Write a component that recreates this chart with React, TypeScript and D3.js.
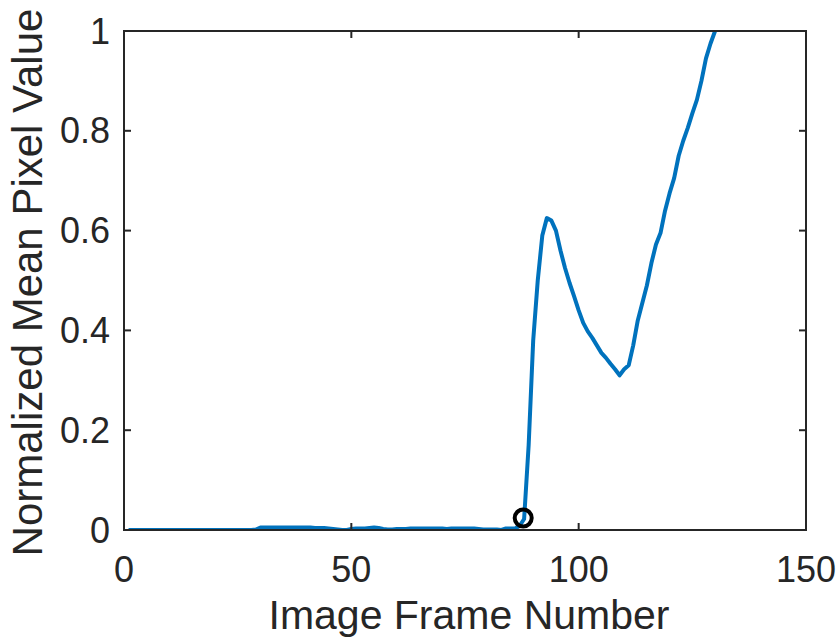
import React from 'react';
import { scaleLinear, line } from 'd3';

// frames 1..131, normalized mean pixel value
const baseline = [
	0, 0, 0, 0, 0, 0, 0, 0, 0, 0,
	0, 0, 0, 0, 0, 0, 0, 0, 0, 0,
	0, 0, 0, 0, 0, 0, 0, 0, 0.001, 0.005,
	0.005, 0.005, 0.005, 0.005, 0.005, 0.005, 0.005, 0.005, 0.005, 0.005,
	0.005, 0.004, 0.004, 0.004, 0.003, 0.002, 0.001, 0.0, 0.0, 0.002,
	0.003, 0.003, 0.003, 0.004, 0.005, 0.004, 0.002, 0.001, 0.001, 0.002,
	0.002, 0.002, 0.003, 0.003, 0.003, 0.003, 0.003, 0.003, 0.003, 0.003,
	0.002, 0.003, 0.003, 0.003, 0.003, 0.003, 0.003, 0.002, 0.001, 0.001,
	0.001, 0.001, 0.0, 0.003, 0.003, 0.003, 0.008
];
const rise = [
	0.022, 0.17, 0.38, 0.5, 0.59, 0.625, 0.62, 0.6, 0.56, 0.525,
	0.495, 0.468, 0.44, 0.415, 0.398, 0.385, 0.37, 0.355, 0.345, 0.333,
	0.322, 0.31, 0.322, 0.33, 0.37, 0.42, 0.455, 0.49, 0.535, 0.572,
	0.595, 0.64, 0.675, 0.705, 0.75, 0.78, 0.806, 0.835, 0.862, 0.9,
	0.945, 0.975, 1.0, 1.03
];
const values = baseline.concat(rise);
const frames = values.map((v, i) => i + 1);

const onsetFrame = 87.8;
const onsetValue = 0.024;

const xTicks = [0, 50, 100, 150];
const yTicks = [0, 0.2, 0.4, 0.6, 0.8, 1];
const yTickLabels = ['0', '0.2', '0.4', '0.6', '0.8', '1'];

const width = 836;
const height = 640;
const margin = { top: 31, right: 30, bottom: 110, left: 124 };
const ink = '#262626';
const font = '"Liberation Sans", Arial, Helvetica, sans-serif';

export default function App() {
	const w = width - margin.left - margin.right;
	const h = height - margin.top - margin.bottom;

	const x = scaleLinear().domain([0, 150]).range([0, w]);
	const y = scaleLinear().domain([0, 1]).range([h, 0]);

	const data = frames.map((f, i) => ({ x: f, y: values[i] }));

	const lineFn = line<{ x: number; y: number }>()
		.x((d) => x(d.x))
		.y((d) => y(d.y));

	const tick = 7;

	return (
		<div style={{ position: 'absolute', left: 0, top: 0 }}>
			<svg width={width} height={height} style={{ display: 'block', background: '#fff' }}>
				<defs>
					<clipPath id="plot-clip">
						<rect x={0} y={0} width={w} height={h} />
					</clipPath>
				</defs>
				<g transform={'translate(' + margin.left + ',' + margin.top + ')'}>
					<path
						d={lineFn(data) || ''}
						fill="none"
						stroke="#0072BD"
						strokeWidth={4}
						strokeLinejoin="round"
						clipPath="url(#plot-clip)"
					/>
					<circle
						cx={x(onsetFrame)}
						cy={y(onsetValue)}
						r={8.5}
						fill="none"
						stroke="#000"
						strokeWidth={4}
					/>

					<rect x={0} y={0} width={w} height={h} fill="none" stroke={ink} strokeWidth={2} />

					{xTicks.map((t) => (
						<g key={'x' + t}>
							<line x1={x(t)} x2={x(t)} y1={h} y2={h - tick} stroke={ink} strokeWidth={2} />
							<line x1={x(t)} x2={x(t)} y1={0} y2={tick} stroke={ink} strokeWidth={2} />
							<text
								x={x(t)}
								y={h + 52}
								textAnchor="middle"
								fontFamily={font}
								fontSize={36}
								fill={ink}
							>
								{t}
							</text>
						</g>
					))}

					{yTicks.map((t, i) => (
						<g key={'y' + t}>
							<line x1={0} x2={tick} y1={y(t)} y2={y(t)} stroke={ink} strokeWidth={2} />
							<line x1={w} x2={w - tick} y1={y(t)} y2={y(t)} stroke={ink} strokeWidth={2} />
							<text
								x={-14}
								y={y(t)}
								dy="0.35em"
								textAnchor="end"
								fontFamily={font}
								fontSize={36}
								fill={ink}
							>
								{yTickLabels[i]}
							</text>
						</g>
					))}

					<text
						x={w / 2 + 4}
						y={h + 99}
						textAnchor="middle"
						fontFamily={font}
						fontSize={41}
						fill={ink}
					>
						Image Frame Number
					</text>
					<text
						transform={'translate(' + (42 - margin.left) + ',' + (h / 2 + 2) + ') rotate(-90)'}
						textAnchor="middle"
						fontFamily={font}
						fontSize={42}
						fill={ink}
					>
						Normalized Mean Pixel Value
					</text>
				</g>
			</svg>
		</div>
	);
}
